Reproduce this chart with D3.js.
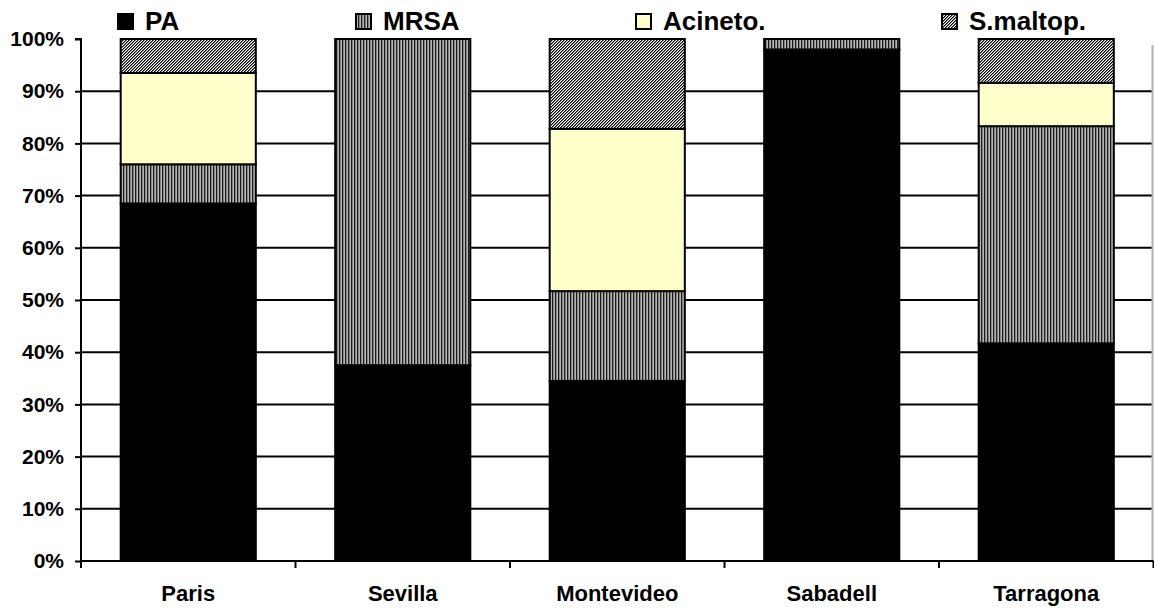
<!DOCTYPE html>
<html>
<head>
<meta charset="utf-8">
<script src="https://cdn.jsdelivr.net/npm/d3@7"></script>
<style>
  html, body { margin: 0; padding: 0; background: #fff; }
  svg { display: block; font-family: "Liberation Sans", Arial, sans-serif; font-weight: bold; }
</style>
</head>
<body>
<svg id="chart" width="1154" height="608"></svg>
<script>
// Share of each pathogen per centre (percent of cases)
const centres = ["Paris", "Sevilla", "Montevideo", "Sabadell", "Tarragona"];
const seriesNames = ["PA", "MRSA", "Acineto.", "S.maltop."];
const paValues      = [68.5, 37.5, 34.5, 98.0, 41.7];
const mrsaValues    = [7.5, 62.5, 17.2, 2.0, 41.6];
const acinetoValues = [17.5, 0, 31.1, 0, 8.3];
const smaltopValues = [6.5, 0, 17.2, 0, 8.4];
const yTicks = [0, 10, 20, 30, 40, 50, 60, 70, 80, 90, 100];

const seriesValues = [paValues, mrsaValues, acinetoValues, smaltopValues];
const rows = centres.map((c, i) => {
  const r = { centre: c };
  seriesNames.forEach((s, k) => { r[s] = seriesValues[k][i]; });
  return r;
});
const stacked = d3.stack().keys(seriesNames)(rows);

const svg = d3.select("#chart");
const plotLeft = 81, plotRight = 1153.5, plotTop = 39, plotBottom = 561;

const x = d3.scaleBand().domain(centres).range([plotLeft, plotRight])
  .paddingInner(0.37).paddingOuter(0.185);
const y = d3.scaleLinear().domain([0, 100]).range([plotBottom, plotTop]);

// Fill patterns
const defs = svg.append("defs");
const stripes = defs.append("pattern").attr("id", "pat-mrsa")
  .attr("patternUnits", "userSpaceOnUse").attr("width", 3).attr("height", 3);
stripes.append("rect").attr("width", 3).attr("height", 3).attr("fill", "#858585");
stripes.append("rect").attr("x", 0).attr("width", 1).attr("height", 3).attr("fill", "#1e1e1e");
stripes.append("rect").attr("x", 2).attr("width", 1).attr("height", 3).attr("fill", "#b4b4b4");

// Fine diagonal hatch
const hatch = defs.append("pattern").attr("id", "pat-smaltop")
  .attr("patternUnits", "userSpaceOnUse").attr("width", 3).attr("height", 3);
hatch.append("rect").attr("width", 3).attr("height", 3).attr("fill", "#ffffff");
const hatchShades = ["#000000", "#7a7a7a", null];
for (let px = 0; px < 3; px++) {
  for (let py = 0; py < 3; py++) {
    const shade = hatchShades[(px + py) % 3];
    if (shade) {
      hatch.append("rect").attr("x", px).attr("y", py).attr("width", 1).attr("height", 1).attr("fill", shade);
    }
  }
}

const fills = {
  "PA": "#000000",
  "MRSA": "url(#pat-mrsa)",
  "Acineto.": "#ffffcc",
  "S.maltop.": "url(#pat-smaltop)"
};

// Horizontal gridlines
svg.append("g").selectAll("line")
  .data(yTicks.filter(t => t > 0 && t < 100))
  .join("line")
  .attr("x1", plotLeft).attr("x2", 1152)
  .attr("y1", d => y(d)).attr("y2", d => y(d))
  .attr("stroke", "#000").attr("stroke-width", 2);

// Right border of the plot area
svg.append("line")
  .attr("x1", 1152.5).attr("x2", 1152.5).attr("y1", 45).attr("y2", plotBottom)
  .attr("stroke", "#b0b0b0").attr("stroke-width", 2);

// Stacked bars
svg.append("g").selectAll("g")
  .data(stacked)
  .join("g")
  .attr("fill", d => fills[d.key])
  .selectAll("rect")
  .data(d => d.filter(s => s[1] - s[0] > 0))
  .join("rect")
  .attr("x", d => x(d.data.centre))
  .attr("width", x.bandwidth())
  .attr("y", d => y(d[1]))
  .attr("height", d => y(d[0]) - y(d[1]))
  .attr("stroke", "#000").attr("stroke-width", 2);

// Y axis
const yAxis = svg.append("g")
  .attr("transform", `translate(${plotLeft},0)`)
  .call(d3.axisLeft(y).tickValues(yTicks).tickFormat(d => d + "%").tickSize(6).tickPadding(11));
yAxis.select(".domain").attr("stroke-width", 2).attr("d", `M-6,${plotTop}H0V${plotBottom}`);
yAxis.selectAll(".tick line").attr("stroke-width", 2);
yAxis.selectAll("text").attr("font-size", 21).attr("font-weight", "bold")
  .attr("font-family", "Liberation Sans, Arial, sans-serif").attr("fill", "#000");

// X axis: labels under bars, ticks at category boundaries
const xAxis = svg.append("g")
  .attr("transform", `translate(0,${plotBottom})`)
  .call(d3.axisBottom(x).tickSize(0).tickPadding(24));
xAxis.select(".domain").attr("stroke-width", 2).attr("d", `M${plotLeft},0H${plotRight}`);
xAxis.selectAll("text").attr("font-size", 22).attr("font-weight", "bold")
  .attr("font-family", "Liberation Sans, Arial, sans-serif").attr("fill", "#000");
const step = x.step();
const boundaries = d3.range(centres.length + 1).map(i => plotLeft + i * step);
xAxis.append("g").selectAll("line")
  .data(boundaries)
  .join("line")
  .attr("x1", d => d).attr("x2", d => d)
  .attr("y1", 0).attr("y2", 7)
  .attr("stroke", "#000").attr("stroke-width", 2);

// Legend
const legendX = [117, 355, 635, 941];
const legend = svg.append("g").selectAll("g")
  .data(seriesNames)
  .join("g")
  .attr("transform", (d, i) => `translate(${legendX[i]},13)`);
legend.append("rect")
  .attr("x", 1).attr("y", 1).attr("width", 15).attr("height", 15)
  .attr("fill", d => fills[d])
  .attr("stroke", "#000").attr("stroke-width", 2);
legend.append("text")
  .attr("x", 28).attr("y", 17)
  .attr("font-size", 26)
  .attr("fill", "#000")
  .text(d => d);
</script>
</body>
</html>
